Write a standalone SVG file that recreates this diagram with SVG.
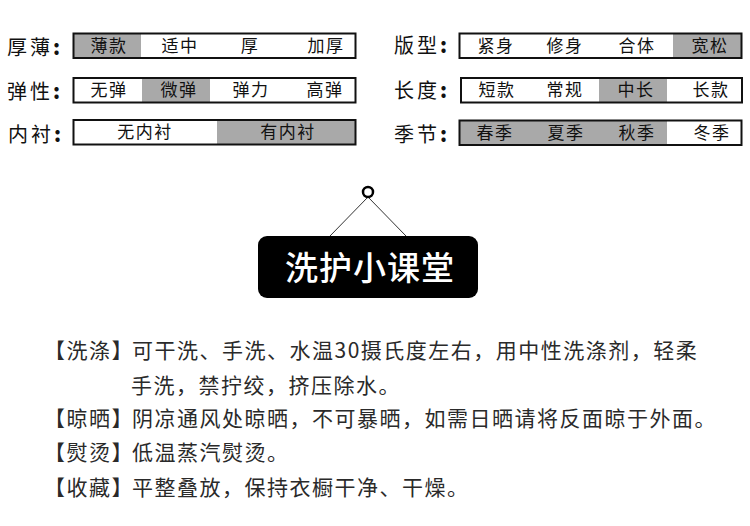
<svg xmlns="http://www.w3.org/2000/svg" width="750" height="526" viewBox="0 0 750 526">
<style>
text{font-family:"Noto Sans CJK SC","Noto Sans",sans-serif;fill:#1a1a1a}
.lab{font-size:20px;letter-spacing:3px;fill:#111}
.lab tspan{font-weight:900}
.opt{font-size:17px;text-anchor:middle;letter-spacing:1.5px;fill:#111}
.frame{fill:none;stroke:#111;stroke-width:2}
.on{fill:#a9a9a9}
.body{font-size:21px;letter-spacing:1.5px;fill:#2a2a2a}
</style>
<rect width="750" height="526" fill="#fff"/>
<g id="row-thickness">
<text class="lab" x="7" y="55">厚薄<tspan>:</tspan></text>
<rect class="on" x="74" y="34" width="67" height="24"/><rect class="frame" x="73.5" y="33.5" width="282" height="24.5"/>
<text class="opt" x="109" y="52">薄款</text><text class="opt" x="180" y="52">适中</text><text class="opt" x="250" y="52">厚</text><text class="opt" x="326" y="52">加厚</text>
</g>
<g id="row-elastic">
<text class="lab" x="7" y="99">弹性<tspan>:</tspan></text>
<rect class="on" x="142" y="78" width="68" height="24"/><rect class="frame" x="73.5" y="78" width="282" height="24.5"/>
<text class="opt" x="109" y="96">无弹</text><text class="opt" x="179" y="96">微弹</text><text class="opt" x="251" y="96">弹力</text><text class="opt" x="325" y="96">高弹</text>
</g>
<g id="row-lining">
<text class="lab" x="8" y="142">内衬<tspan>:</tspan></text>
<rect class="on" x="217" y="120" width="138" height="24"/><rect class="frame" x="73.5" y="120" width="282" height="24.5"/>
<text class="opt" x="145" y="138">无内衬</text><text class="opt" x="288" y="138">有内衬</text>
</g>
<g id="row-fit">
<text class="lab" x="394" y="53">版型<tspan>:</tspan></text>
<rect class="on" x="673" y="34" width="68" height="24"/><rect class="frame" x="459.5" y="33.5" width="282" height="24.5"/>
<text class="opt" x="496" y="52">紧身</text><text class="opt" x="565" y="52">修身</text><text class="opt" x="637" y="52">合体</text><text class="opt" x="710" y="52">宽松</text>
</g>
<g id="row-length">
<text class="lab" x="394" y="98">长度<tspan>:</tspan></text>
<rect class="on" x="599" y="78" width="68" height="24"/><rect class="frame" x="461" y="78" width="281" height="24.5"/>
<text class="opt" x="497" y="96">短款</text><text class="opt" x="565" y="96">常规</text><text class="opt" x="636" y="96">中长</text><text class="opt" x="711" y="96">长款</text>
</g>
<g id="row-season">
<text class="lab" x="394" y="142">季节<tspan>:</tspan></text>
<rect class="on" x="460" y="121" width="207" height="24"/><rect class="frame" x="459.5" y="120.5" width="282" height="24.5"/>
<text class="opt" x="495" y="139">春季</text><text class="opt" x="566" y="139">夏季</text><text class="opt" x="637" y="139">秋季</text><text class="opt" x="712" y="139">冬季</text>
</g>
<g id="sign">
<path d="M368 197L330 236M368 197L406 236" fill="none" stroke="#333" stroke-width="1"/>
<circle cx="368" cy="192" r="5" fill="#fff" stroke="#000" stroke-width="2.5"/>
<rect x="258" y="236" width="220" height="62" rx="9" fill="#000"/>
<text x="285" y="280" font-size="33" font-weight="500" letter-spacing="1" style="fill:#fff">洗护小课堂</text>
</g>
<g id="care-text">
<text class="body" x="44" y="358">【洗涤】</text>
<text class="body" x="132" y="358">可干洗、手洗、水温30摄氏度左右，用中性洗涤剂，轻柔</text>
<text class="body" x="131" y="393">手洗，禁拧绞，挤压除水。</text>
<text class="body" x="44" y="426">【晾晒】</text>
<text class="body" x="132" y="426">阴凉通风处晾晒，不可暴晒，如需日晒请将反面晾于外面。</text>
<text class="body" x="44" y="460">【熨烫】</text>
<text class="body" x="132" y="460">低温蒸汽熨烫。</text>
<text class="body" x="44" y="495">【收藏】</text>
<text class="body" x="132" y="495">平整叠放，保持衣橱干净、干燥。</text>
</g>
</svg>
